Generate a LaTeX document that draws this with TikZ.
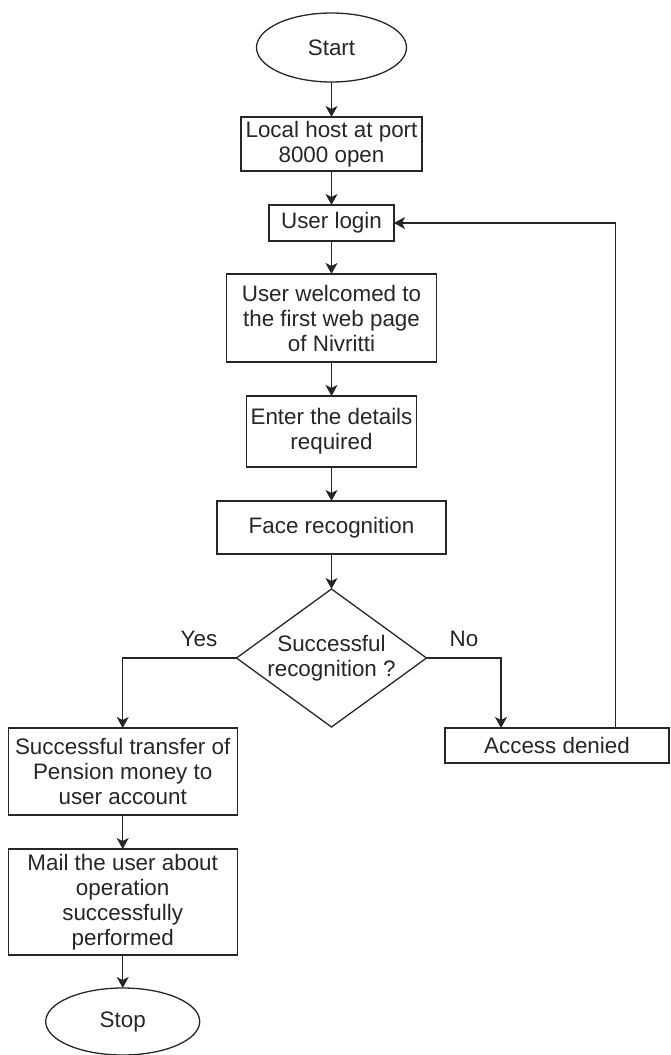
\documentclass[tikz,border=0pt]{standalone}
\usepackage{fontspec}
\setmainfont{Liberation Sans}
\usepackage{tikz}
\usetikzlibrary{positioning, arrows.meta, shapes.geometric, calc}

\begin{document}
\begin{tikzpicture}[
  x=1pt, y=1pt,
  font=\fontsize{22.4pt}{25pt}\selectfont,
  line width=1.3pt,
  every node/.style={text=black!85, inner sep=0pt, outer sep=0pt},
  term/.style={draw=black!85, ellipse, minimum width=150pt, minimum height=69pt},
  proc/.style={draw=black!85, rectangle, align=center},
  decide/.style={draw=black!85, diamond, minimum width=190pt,
    minimum height=138pt},
  arr/.style={draw=black!85, -{Stealth[length=11pt, width=12pt, inset=3pt]}},
]
  \useasboundingbox (0,0) rectangle (670,-1055);

  % Main column: start -> login -> details -> face check
  \node[term] (start) at (331.5,-47.5) {Start};
  \node[proc, minimum width=181pt, minimum height=54pt, below=35pt of start] (host) {Local host at port\\8000 open};
  \node[proc, minimum width=125pt, minimum height=36pt, below=34pt of host] (login) {User login};
  \node[proc, minimum width=210pt, minimum height=88pt, below=33pt of login] (welcome) {User welcomed to\\the first web page\\of Nivritti};
  \node[proc, minimum width=170pt, minimum height=71pt, below=34pt of welcome] (details) {Enter the details\\required};
  \node[proc, minimum width=229pt, minimum height=53pt, below=34pt of details] (face) {Face recognition};
  \node[decide, below=35pt of face] (check) {};
  \node[align=center] (checktext) at (check) {Successful\\recognition ?};

  % Two outcomes of the check
  \node[proc, anchor=north, minimum width=229pt, minimum height=87pt] (pay) at (122.7,-728) {Successful transfer of\\Pension money to\\user account};
  \node[proc, minimum width=229pt, minimum height=106pt, below=34pt of pay] (mail) {Mail the user about\\operation\\successfully\\performed};
  \node[term, minimum width=154pt, minimum height=67pt, below=33pt of mail] (stop) {Stop};
  \node[proc, anchor=north, minimum width=224pt, minimum height=35pt] (deny) at (557,-728) {Access denied};

  \node (yes) at (199,-639) {Yes};
  \node (no) at (464,-639) {No};

  \draw[arr] (start) -- (host);
  \draw[arr] (host) -- (login);
  \draw[arr] (login) -- (welcome);
  \draw[arr] (welcome) -- (details);
  \draw[arr] (details) -- (face);
  \draw[arr] (face) -- (check);
  \draw[arr] (check.west) -| (pay.north);
  \draw[arr] (check.east) -| ($(deny.north west)!0.25!(deny.north east)$);
  \draw[arr] (pay) -- (mail);
  \draw[arr] (mail) -- (stop);
  % retry loop back to login
  \draw[arr] ($(deny.north west)!0.76!(deny.north east)$) |- (login.east);
\end{tikzpicture}
\end{document}
